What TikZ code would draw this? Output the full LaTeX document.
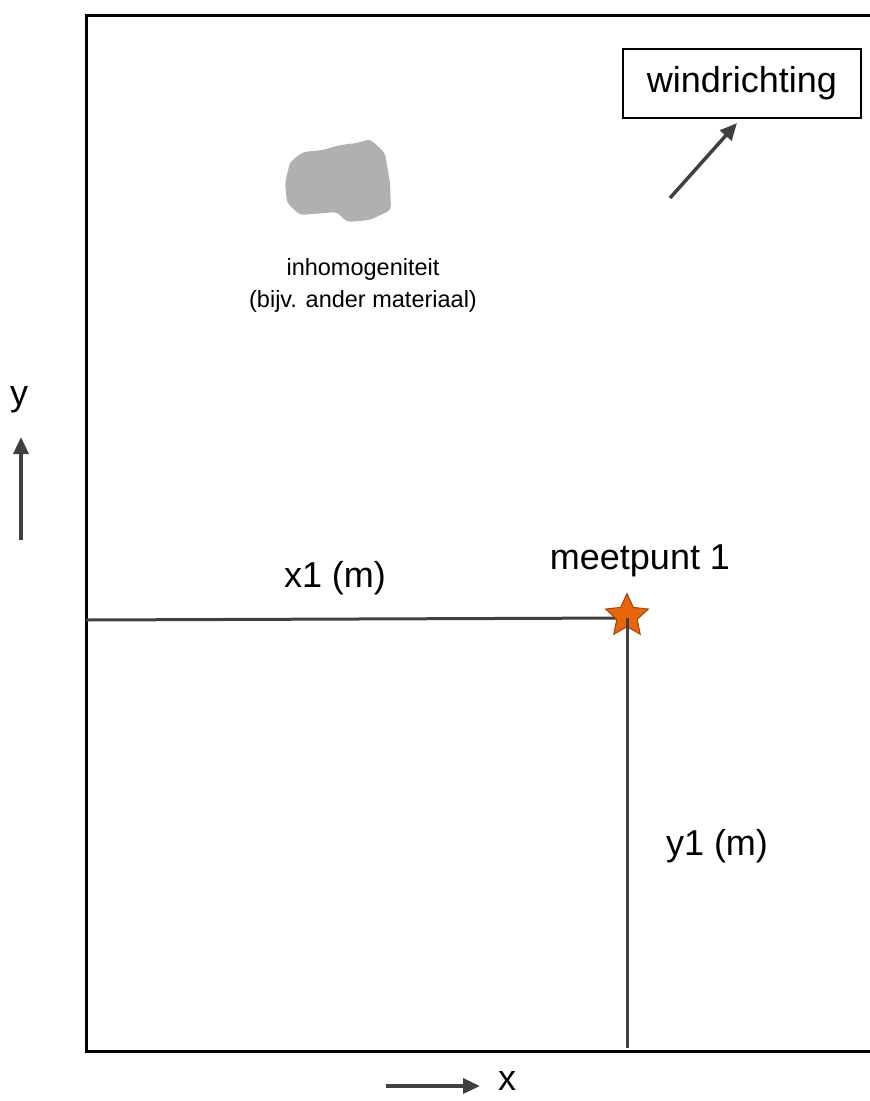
\documentclass[tikz,border=0pt]{standalone}
\usepackage{fontspec}
\setmainfont{Liberation Sans}
\usetikzlibrary{shapes.geometric,arrows.meta}
\definecolor{linegray}{HTML}{404040}
\definecolor{blobgray}{HTML}{B0B0B0}
\definecolor{starfill}{HTML}{E8650A}
\definecolor{stardraw}{HTML}{A84400}
\tikzset{
  bigtext/.style={font=\fontsize{36}{40}\selectfont, inner sep=0pt},
  smalltext/.style={font=\fontsize{23.5}{28}\selectfont, inner sep=0pt, align=center},
  guide/.style={draw=linegray, line width=3pt},
  dirarrow/.style={draw=linegray, line width=3.5pt, -{Triangle[length=17pt,width=15pt]}},
}
\begin{document}
\begin{tikzpicture}[x=1pt,y=-1pt]
\useasboundingbox (0,0) rectangle (870,1101);
% frame
\draw[line width=3pt] (900,15) -- (86,15) -- (86,1051) -- (900,1051);
% wind direction box
\node[draw, line width=1.5pt, minimum width=238pt, minimum height=69pt, bigtext] (wind) at (742,83.5) {windrichting};
\coordinate (wstart) at (670,198);
\coordinate (wend) at (737,123);
\draw[dirarrow] (wstart) -- (wend);
% inhomogeneity blob
\fill[blobgray, rounded corners=4pt] (370,139) -- (385,153) -- (390,183) -- (391,210) -- (370,220) -- (347,222) -- (337,212) -- (300,215) -- (287,203) -- (285,183) -- (290,162) -- (303,152) -- (323,150) -- (340,145) -- (357,143) -- cycle;
\node[smalltext] (inh) at (363,285) {inhomogeniteit\\[4pt](bijv. ander materiaal)};
% axes indicators
\node[bigtext] (ylab) at (19,400) {y};
\coordinate (ys) at (21,540);
\coordinate (ye) at (21,437);
\draw[dirarrow] (ys) -- (ye);
\coordinate (xs) at (386,1086);
\coordinate (xe) at (480,1086);
\draw[dirarrow] (xs) -- (xe);
\node[bigtext] (xlab) at (507,1081) {x};
% measurement point
\coordinate (left) at (86,620);
\coordinate (mp) at (627,618);
\coordinate (bottom) at (627,1048);
\draw[guide] (left) -- (mp);
\node[star, star points=5, star point ratio=2.1, minimum size=45pt, inner sep=0pt, fill=starfill, draw=stardraw, line width=1pt] (star) at (627,616) {};
\draw[guide] (mp) -- (bottom);
\node[bigtext] (x1) at (335,578) {x1 (m)};
\node[bigtext] (meet) at (640,561) {meetpunt 1};
\node[bigtext] (y1) at (717,846) {y1 (m)};
\end{tikzpicture}
\end{document}
